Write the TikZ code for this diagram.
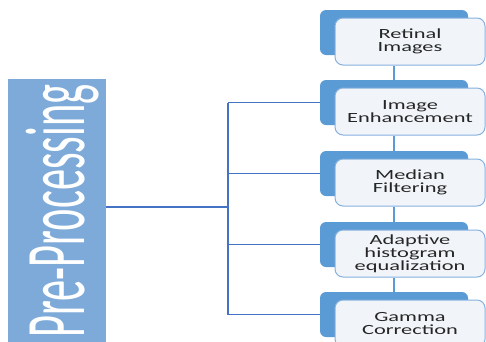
\documentclass[tikz,border=0pt]{standalone}
\usepackage{fontspec}
\usepackage{graphicx}
\usepackage{tikz}
\usetikzlibrary{positioning}
\usepackage{xcolor}
\newfontfamily\boxfont{Carlito}[FakeStretch=1.6]
\newfontfamily\barfont{Carlito}
\definecolor{barblue}{HTML}{7DAAD9}
\definecolor{backblue}{HTML}{5B9BD5}
\definecolor{edgeblue}{HTML}{86B0DE}
\definecolor{paleblue}{HTML}{F1F5FA}
\definecolor{lineblue}{HTML}{4672C6}
\definecolor{txtgray}{HTML}{262626}
\tikzset{
  barbox/.style={fill=barblue, inner sep=0pt},
  bartext/.style={inner sep=0pt, text=white, font=\barfont},
  backbox/.style={fill=backblue, rounded corners=6pt, minimum width=148pt, minimum height=45pt, inner sep=0pt},
  frontbox/.style={fill=paleblue, draw=edgeblue, line width=1pt, rounded corners=8pt,
    minimum width=150pt, minimum height=47pt, inner sep=0pt, align=center,
    text=txtgray, font=\boxfont\fontsize{14}{13}\selectfont},
  branch/.style={draw=lineblue, line width=1.3pt},
  stem/.style={draw=backblue, line width=2.2pt}
}

\begin{document}
\begin{tikzpicture}[x=1pt, y=-1pt]
  \useasboundingbox (0,0) rectangle (486,341);
  % left bar
  \node[barbox, minimum width=98pt, minimum height=268pt] (pre) at (57,213) {};
  \node[bartext, rotate=90] (pretext) at ([xshift=6pt, yshift=2pt]pre.center)
    {\resizebox*{253pt}{73pt}{Pre-Processing}};
  \coordinate (trunk) at (228,207);
  % boxes on the right
  \foreach \n/\y/\txt in {1/32.5/{Retinal\\Images}, 2/102.5/{Image\\Enhancement},
      3/173.5/{Median\\Filtering}, 4/244.5/{Adaptive\\histogram\\equalization},
      5/314.5/{Gamma\\Correction}} {
    \node[backbox] (b\n) at (394,\y) {};
    \node[frontbox] (f\n) at ([xshift=16pt, yshift=-9pt]b\n.center) {\txt};
  }
  % connectors
  \foreach \n/\m in {1/2,2/3,3/4,4/5} {
    \draw[stem] (f\n.south -| b\m) -- (b\m.north);
  }
  \draw[branch] (pre.east |- trunk) -- (trunk);
  \draw[branch] (b2.west -| trunk) -- (b5.west -| trunk);
  \foreach \n in {2,...,5} {
    \draw[branch] (b\n.west -| trunk) -- (b\n.west);
  }
\end{tikzpicture}
\end{document}
